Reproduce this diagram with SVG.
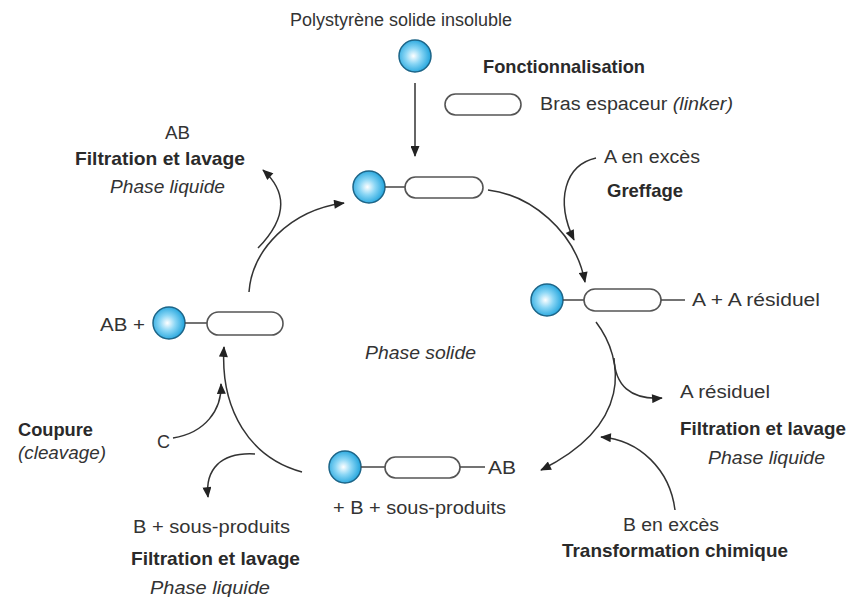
<svg xmlns="http://www.w3.org/2000/svg" width="847" height="597" viewBox="0 0 847 597">
<defs>
<radialGradient id="ballg" cx="0.45" cy="0.5" r="0.55">
<stop offset="0" stop-color="#ffffff"/>
<stop offset="0.45" stop-color="#8ad6f5"/>
<stop offset="1" stop-color="#1fa3dc"/>
</radialGradient>
<marker id="ah" viewBox="0 0 12 10" refX="11" refY="5" markerWidth="12" markerHeight="9" markerUnits="userSpaceOnUse" orient="auto">
<path d="M0,0 L12,5 L0,10 z" fill="#222"/>
</marker>
</defs>
<style>
text{font-family:"Liberation Sans",Arial,sans-serif;font-size:18px;fill:#333}
.b{font-weight:bold;font-size:18.5px;fill:#2a2a2a}
.i{font-style:italic}
.ball{fill:url(#ballg);stroke:#1d6588;stroke-width:1.5}
.pill{fill:#fff;stroke:#555;stroke-width:1.6}
.ln{stroke:#444;stroke-width:1.5;fill:none}
.arr{stroke:#333;stroke-width:1.5;fill:none;marker-end:url(#ah)}
</style>
<rect width="847" height="597" fill="#fff"/>

<text x="290" y="26" textLength="222" lengthAdjust="spacingAndGlyphs">Polystyrène solide insoluble</text>
<text x="483" y="73" class="b" textLength="162" lengthAdjust="spacingAndGlyphs">Fonctionnalisation</text>
<text x="540" y="110" textLength="193" lengthAdjust="spacingAndGlyphs">Bras espaceur <tspan class="i">(linker)</tspan></text>
<text x="365" y="359" class="i" textLength="111" lengthAdjust="spacingAndGlyphs">Phase solide</text>

<g id="polymer">
<circle class="ball" cx="415" cy="56" r="16"/>
</g>
<g id="linker">
<rect class="pill" x="445" y="94" width="76" height="21" rx="10.5"/>
</g>

<g id="node-top">
<circle class="ball" cx="369" cy="187" r="16"/>
<line class="ln" x1="385" y1="187" x2="405" y2="187"/>
<rect class="pill" x="405" y="177" width="78" height="21" rx="10.5"/>
</g>

<g id="node-right">
<circle class="ball" cx="547" cy="300" r="16"/>
<line class="ln" x1="563" y1="300" x2="584" y2="300"/>
<rect class="pill" x="584" y="289" width="77" height="22" rx="11"/>
<line class="ln" x1="661" y1="300" x2="685" y2="300"/>
<text x="692" y="306" textLength="128" lengthAdjust="spacingAndGlyphs">A + A résiduel</text>
</g>

<g id="node-bottom">
<circle class="ball" cx="345" cy="467" r="16"/>
<line class="ln" x1="361" y1="467" x2="385" y2="467"/>
<rect class="pill" x="385" y="457" width="75" height="21" rx="10.5"/>
<line class="ln" x1="460" y1="467" x2="485" y2="467"/>
<text x="488" y="474" textLength="28" lengthAdjust="spacingAndGlyphs">AB</text>
<text x="333" y="514" textLength="173" lengthAdjust="spacingAndGlyphs">+ B + sous-produits</text>
</g>

<g id="node-left">
<text x="100" y="331" textLength="45" lengthAdjust="spacingAndGlyphs">AB +</text>
<circle class="ball" cx="169" cy="323" r="16"/>
<line class="ln" x1="185" y1="323" x2="207" y2="323"/>
<rect class="pill" x="207" y="312" width="76" height="23" rx="11.5"/>
</g>

<g id="labels-topleft">
<text x="165" y="139" textLength="25" lengthAdjust="spacingAndGlyphs">AB</text>
<text x="75" y="165" class="b" textLength="170" lengthAdjust="spacingAndGlyphs">Filtration et lavage</text>
<text x="110" y="193" class="i" textLength="115" lengthAdjust="spacingAndGlyphs">Phase liquide</text>
</g>
<g id="labels-topright">
<text x="604" y="163" textLength="96" lengthAdjust="spacingAndGlyphs">A en excès</text>
<text x="607" y="197" class="b" textLength="76" lengthAdjust="spacingAndGlyphs">Greffage</text>
</g>
<g id="labels-right">
<text x="680" y="398" textLength="90" lengthAdjust="spacingAndGlyphs">A résiduel</text>
<text x="680" y="435" class="b" textLength="166" lengthAdjust="spacingAndGlyphs">Filtration et lavage</text>
<text x="708" y="464" class="i" textLength="117" lengthAdjust="spacingAndGlyphs">Phase liquide</text>
</g>
<g id="labels-bottomright">
<text x="623" y="531" textLength="96" lengthAdjust="spacingAndGlyphs">B en excès</text>
<text x="562" y="557" class="b" textLength="226" lengthAdjust="spacingAndGlyphs">Transformation chimique</text>
</g>
<g id="labels-bottomleft">
<text x="133" y="533" textLength="157" lengthAdjust="spacingAndGlyphs">B + sous-produits</text>
<text x="131" y="565" class="b" textLength="169" lengthAdjust="spacingAndGlyphs">Filtration et lavage</text>
<text x="150" y="594" class="i" textLength="120" lengthAdjust="spacingAndGlyphs">Phase liquide</text>
</g>
<g id="labels-left">
<text x="18" y="436" class="b" textLength="75" lengthAdjust="spacingAndGlyphs">Coupure</text>
<text x="18" y="459" class="i" textLength="88" lengthAdjust="spacingAndGlyphs">(cleavage)</text>
<text x="157" y="448">C</text>
</g>

<g id="connectors">
<path class="arr" d="M415,83 L415,156"/>
<path class="arr" d="M249,292 C252,250 290,210 344,203"/>
<path class="arr" d="M258,248 C290,215 285,190 263,170"/>
<path class="arr" d="M488,190 C530,195 575,230 585,282"/>
<path class="arr" d="M596,158 C565,165 555,200 574,240"/>
<path class="arr" d="M596,322 C625,360 632,425 541,470"/>
<path class="arr" d="M614,358 C615,385 630,400 662,398"/>
<path class="arr" d="M675,510 C670,470 640,440 601,437"/>
<path class="arr" d="M302,472 C250,458 220,410 224,347"/>
<path class="arr" d="M173,438 C205,433 222,410 221,384"/>
<path class="arr" d="M255,454 C220,452 205,470 208,497"/>
</g>
</svg>
